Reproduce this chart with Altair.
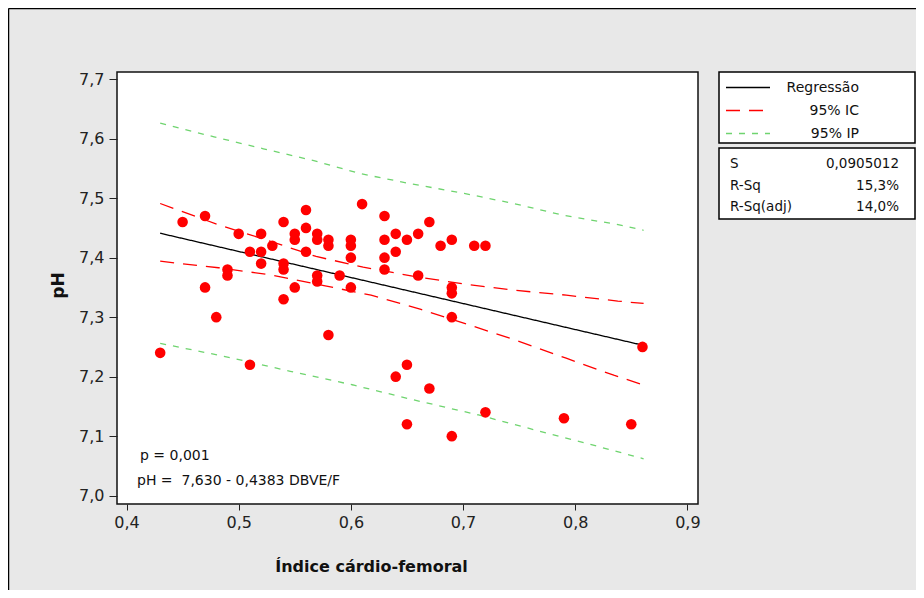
import altair as alt
import pandas as pd

# ---------------- data ----------------
x_vals = [0.43, 0.45, 0.47, 0.47, 0.48, 0.49, 0.49, 0.50, 0.51, 0.51,
          0.52, 0.52, 0.52, 0.53, 0.54, 0.54, 0.54, 0.54, 0.55, 0.55,
          0.55, 0.56, 0.56, 0.56, 0.57, 0.57, 0.57, 0.57, 0.58, 0.58,
          0.58, 0.59, 0.60, 0.60, 0.60, 0.60, 0.61, 0.63, 0.63, 0.63,
          0.63, 0.64, 0.64, 0.64, 0.65, 0.65, 0.65, 0.66, 0.66, 0.67,
          0.67, 0.68, 0.69, 0.69, 0.69, 0.69, 0.69, 0.71, 0.72, 0.72,
          0.79, 0.85, 0.86]
y_vals = [7.24, 7.46, 7.47, 7.35, 7.30, 7.38, 7.37, 7.44, 7.41, 7.22,
          7.44, 7.41, 7.39, 7.42, 7.46, 7.39, 7.38, 7.33, 7.44, 7.43,
          7.35, 7.48, 7.45, 7.41, 7.44, 7.43, 7.37, 7.36, 7.43, 7.42,
          7.27, 7.37, 7.43, 7.42, 7.40, 7.35, 7.49, 7.47, 7.43, 7.40,
          7.38, 7.44, 7.41, 7.20, 7.43, 7.22, 7.12, 7.44, 7.37, 7.46,
          7.18, 7.42, 7.43, 7.35, 7.34, 7.30, 7.10, 7.42, 7.42, 7.14,
          7.13, 7.12, 7.25]

fit_x = [0.43, 0.86]
fit_y = [7.441, 7.253]

ci_upper_x = [0.430, 0.481, 0.526, 0.569, 0.611, 0.655, 0.703, 0.747, 0.792, 0.838, 0.861]
ci_upper_y = [7.491, 7.456, 7.429, 7.402, 7.384, 7.369, 7.355, 7.345, 7.337, 7.327, 7.323]
ci_lower_x = [0.430, 0.482, 0.529, 0.576, 0.618, 0.6625, 0.704, 0.749, 0.792, 0.835, 0.861]
ci_lower_y = [7.394, 7.383, 7.371, 7.353, 7.337, 7.313, 7.288, 7.260, 7.231, 7.202, 7.186]

pi_upper_x = [0.430, 0.478, 0.522, 0.567, 0.609, 0.654, 0.701, 0.745, 0.790, 0.837, 0.861]
pi_upper_y = [7.626, 7.603, 7.583, 7.563, 7.541, 7.524, 7.508, 7.491, 7.471, 7.456, 7.446]
pi_lower_x = [0.430, 0.490, 0.546, 0.602, 0.656, 0.713, 0.763, 0.812, 0.861]
pi_lower_y = [7.256, 7.233, 7.209, 7.186, 7.161, 7.136, 7.111, 7.087, 7.062]

series_names = ["Regressão", "95% IC", "95% IP"]
x_ticks = [0.4, 0.5, 0.6, 0.7, 0.8, 0.9]
y_ticks = [7.0, 7.1, 7.2, 7.3, 7.4, 7.5, 7.6, 7.7]

stat_labels = ["S", "R-Sq", "R-Sq(adj)"]
stat_values = ["0,0905012", "15,3%", "14,0%"]
annot_p = "p = 0,001"
annot_eq = "pH = \u00a07,630 - 0,4383 DBVE/F"

# ---------------- build tables ----------------
rows = []
for part, name, xs, ys in [
    ("pi_up", "95% IP", pi_upper_x, pi_upper_y),
    ("pi_lo", "95% IP", pi_lower_x, pi_lower_y),
    ("ci_up", "95% IC", ci_upper_x, ci_upper_y),
    ("ci_lo", "95% IC", ci_lower_x, ci_lower_y),
    ("fit", "Regressão", fit_x, fit_y),
]:
    for xv, yv in zip(xs, ys):
        rows.append({"x": xv, "y": yv, "series": name, "part": part})
lines_df = pd.DataFrame(rows)
pts_df = pd.DataFrame({"x": x_vals, "y": y_vals})
one = pd.DataFrame({"a": [0]})

FONT = "DejaVu Sans"
TXT = "#111111"

xscale = alt.Scale(domain=[0.3915, 0.9095], nice=False, zero=False)
yscale = alt.Scale(domain=[6.986, 7.712], nice=False, zero=False)

xaxis = alt.Axis(values=x_ticks,
                 labelExpr="replace(format(datum.value, '.1f'), '.', ',')",
                 title="Índice cárdio-femoral", titleX=254, titleY=62,
                 titleAlign="center", titleBaseline="middle",
                 titleFont=FONT, titleFontSize=16, titleFontWeight="bold", titleColor=TXT,
                 labelFont=FONT, labelFontSize=16, labelColor="#222222", labelPadding=4,
                 labelFlush=False, tickSize=6, tickColor="#222222", grid=False, domain=False)
yaxis = alt.Axis(values=y_ticks,
                 labelExpr="replace(format(datum.value, '.1f'), '.', ',')",
                 title="pH", titleX=-59, titleY=213, titleAngle=270,
                 titleAlign="center", titleBaseline="middle",
                 titleFont=FONT, titleFontSize=17, titleFontWeight="bold", titleColor=TXT,
                 labelFont=FONT, labelFontSize=16, labelColor="#222222", labelPadding=5,
                 labelFlush=False, tickSize=8, tickColor="#222222", grid=False, domain=False)

color_scale = alt.Scale(domain=series_names, range=["#000000", "#ff0000", "#6fd46f"])
dash_scale = alt.Scale(domain=series_names, range=[[1, 0], [14, 9], [6, 7]])

legend = alt.Legend(title=None, orient="none", legendX=624, legendY=8.5,
                    symbolType="M-3.667,0H3.667", symbolSize=144, symbolStrokeWidth=1.3,
                    labelAlign="right", labelOffset=104, labelFont=FONT,
                    labelFontSize=14, labelColor=TXT, rowPadding=9, padding=0, offset=0)

border_top = alt.Chart(one).mark_rule(color="#000000", strokeWidth=1.5).encode(
    x=alt.value(-108.5), x2=alt.value(799), y=alt.value(-63.5))
border_left = alt.Chart(one).mark_rule(color="#000000", strokeWidth=1.5).encode(
    x=alt.value(-108.5), y=alt.value(-63.5), y2=alt.value(518))
legend_box = alt.Chart(one).mark_rect(fill="white", stroke="#000000", strokeWidth=1.5).encode(
    x=alt.value(602), x2=alt.value(798), y=alt.value(0), y2=alt.value(71))
stats_box = alt.Chart(one).mark_rect(fill="white", stroke="#000000", strokeWidth=1.5).encode(
    x=alt.value(602), x2=alt.value(798), y=alt.value(76), y2=alt.value(147))

lines = alt.Chart(lines_df).mark_line(strokeWidth=1.3).encode(
    x=alt.X("x:Q", scale=xscale, axis=xaxis),
    y=alt.Y("y:Q", scale=yscale, axis=yaxis),
    color=alt.Color("series:N", scale=color_scale, legend=legend),
    strokeDash=alt.StrokeDash("series:N", scale=dash_scale, legend=legend),
    detail="part:N",
)

points = alt.Chart(pts_df).mark_circle(size=112, color="#ff0000", opacity=1).encode(
    x=alt.X("x:Q", scale=xscale), y=alt.Y("y:Q", scale=yscale))

def txt(s, xp, yp, align="left", size=14):
    return alt.Chart(one).mark_text(text=s, align=align, baseline="middle", font=FONT,
                                    fontSize=size, color=TXT).encode(
        x=alt.value(xp), y=alt.value(yp))

texts = [txt(annot_p, 23, 384), txt(annot_eq, 20, 408.5)]
stat_y = [92, 113.5, 135]
for lab, val, yp in zip(stat_labels, stat_values, stat_y):
    texts.append(txt(lab, 613, yp, "left", 13.5))
    texts.append(txt(val, 782, yp, "right", 13.5))

chart = alt.layer(border_top, border_left, legend_box, stats_box, lines, points, *texts).properties(
    width=581, height=432,
    padding={"left": 109, "top": 64, "right": 218, "bottom": 86},
    autosize=alt.AutoSizeParams(type="none"),
    background="#e8e8e8",
).configure_view(fill="white", stroke="#111111", strokeWidth=1.5)

chart.save("out.html", embed_options={"renderer": "svg", "actions": False})
